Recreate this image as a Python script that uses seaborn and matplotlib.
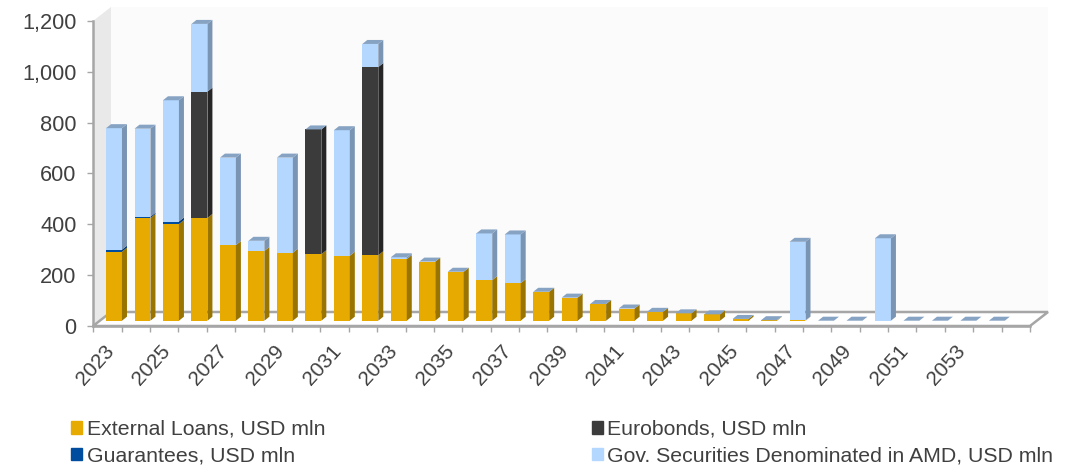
import numpy as np
import pandas as pd
import seaborn as sns
import matplotlib.pyplot as plt
from matplotlib.patches import Patch, Polygon
from matplotlib.transforms import ScaledTranslation

sns.set_theme(style="white")
plt.rcParams['font.family'] = ['Liberation Sans', 'DejaVu Sans']

years = list(range(2023, 2055))
external_loans = [272, 405, 381, 405, 298, 275, 268, 262, 256, 258, 243, 233, 193, 160, 148, 114,
                  91, 66, 48, 35, 29, 25, 7, 2, 1, 0, 0, 0, 0, 0, 0, 0]
eurobonds = [0, 0, 0, 498, 0, 0, 0, 492, 0, 742, 0, 0, 0, 0, 0, 0,
             0, 0, 0, 0, 0, 0, 0, 0, 0, 0, 0, 0, 0, 0, 0, 0]
guarantees = [8, 5, 10, 0, 0, 0, 0, 0, 0, 0, 0, 0, 0, 0, 0, 0,
              0, 0, 0, 0, 0, 0, 0, 0, 0, 0, 0, 0, 0, 0, 0, 0]
gov_securities = [479, 347, 478, 267, 345, 40, 375, 0, 495, 91, 7, 0, 0, 184, 192, 0,
                  0, 0, 0, 0, 0, 0, 0, 0, 310, 0, 0, 325, 0, 0, 0, 0]
y_ticks = [0, 200, 400, 600, 800, 1000, 1200]

df = pd.DataFrame({'year': years, 'External Loans, USD mln': external_loans,
                   'Guarantees, USD mln': guarantees, 'Eurobonds, USD mln': eurobonds,
                   'Gov. Securities Denominated in AMD, USD mln': gov_securities})

# stacking order, front colour, side colour
series = [('External Loans, USD mln', '#E6AA00', '#9A7400'),
          ('Guarantees, USD mln', '#004C9E', '#003570'),
          ('Eurobonds, USD mln', '#3B3B3B', '#262626'),
          ('Gov. Securities Denominated in AMD, USD mln', '#B3D7FF', '#7A94B3')]
TOP_FACE = '#87A3C4'

W, H = 1079, 465
GRAY = '#A6A6A6'
TEXT = '#404040'


def box(left, right, top, bottom):
    return [left / W, 1 - bottom / H, (right - left) / W, (bottom - top) / H]


fig = plt.figure(figsize=(W / 100, H / 100), dpi=100, facecolor='white')

# walls and floor, in pixels
bg = fig.add_axes([0, 0, 1, 1], zorder=0)
bg.set_xlim(0, W)
bg.set_ylim(H, 0)
bg.axis('off')
bg.add_patch(Polygon([(111, 7), (1048, 7), (1048, 312), (111, 312)], fc='#FBFBFB', ec='none'))
bg.add_patch(Polygon([(93, 21), (111, 7), (111, 312), (93, 326)], fc='#E9E9E9', ec='none'))
bg.add_patch(Polygon([(93, 326), (111, 312), (1048, 312), (1030, 326)], fc='white', ec=GRAY, lw=1.8))

# axis with ticks
ax = fig.add_axes(box(93.3, 1030, 21, 325.6), zorder=1)
ax.patch.set_alpha(0)
ax.set_xlim(-0.5, 32.5)
ax.set_ylim(0, 1200)
for s in ['top', 'right']:
    ax.spines[s].set_visible(False)
for s in ['left', 'bottom']:
    ax.spines[s].set_color(GRAY)
    ax.spines[s].set_linewidth(1.8)
ax.set_yticks(y_ticks)
ax.set_yticklabels([f'{v:,}' for v in y_ticks], fontsize=15.7, color=TEXT)
ax.tick_params(axis='y', length=4.5, width=1, color=GRAY, pad=7.5, left=True)
ax.set_xticks(np.arange(0, 32, 2))
ax.set_xticklabels(years[::2], rotation=48, ha='right', va='center', rotation_mode='anchor',
                   fontsize=15, color=TEXT)
ax.tick_params(axis='x', which='major', length=0, pad=16)
ax.set_xticks(np.arange(-0.5, 33, 1), minor=True)
ax.tick_params(axis='x', which='minor', length=4.5, width=1, color=GRAY, bottom=True)
shift = ScaledTranslation(3 / 100, 0, fig.dpi_scale_trans)
for lab in ax.get_xticklabels():
    lab.set_transform(lab.get_transform() + shift)

# bars sit part way into the floor
bar_ax = fig.add_axes(box(99.76, 1039.6, 16.3, 320.7), zorder=2)
bar_ax.patch.set_alpha(0)

bar_w = 0.56
dx = 5 / 28.48
dy = 4 / 0.2537
bottom = np.zeros(len(years))
for name, front, side in series:
    vals = df[name].to_numpy(dtype=float)
    sns.barplot(data=df, x='year', y=name, order=years, color=front, saturation=1, width=bar_w,
                errorbar=None, bottom=bottom, linewidth=0, ax=bar_ax)
    for i, v in enumerate(vals):
        if v > 0:
            x1 = i + bar_w / 2
            b, t = bottom[i], bottom[i] + v
            bar_ax.add_patch(Polygon([(x1, b), (x1 + dx, b + dy), (x1 + dx, t + dy), (x1, t)],
                                     fc=side, ec='none', clip_on=False))
    bottom = bottom + vals

for i, t in enumerate(bottom):
    x0, x1 = i - bar_w / 2, i + bar_w / 2
    bar_ax.add_patch(Polygon([(x0, t), (x1, t), (x1 + dx, t + dy), (x0 + dx, t + dy)],
                             fc=TOP_FACE, ec='none', clip_on=False))
bar_ax.set_xlim(-0.5, 32.5)
bar_ax.set_ylim(0, 1200)
bar_ax.axis('off')

handles = [Patch(color=s[1], label=s[0]) for s in series]
fig.legend(handles=handles, ncol=2, loc='lower left', bbox_to_anchor=(65 / W, -7 / H), frameon=False,
           fontsize=15.3, labelcolor=TEXT, handlelength=0.52, handleheight=0.52, handletextpad=0.2,
           columnspacing=12.55, labelspacing=0.36, borderpad=0.2, borderaxespad=0.1)

fig.savefig('out.png', dpi=100)
